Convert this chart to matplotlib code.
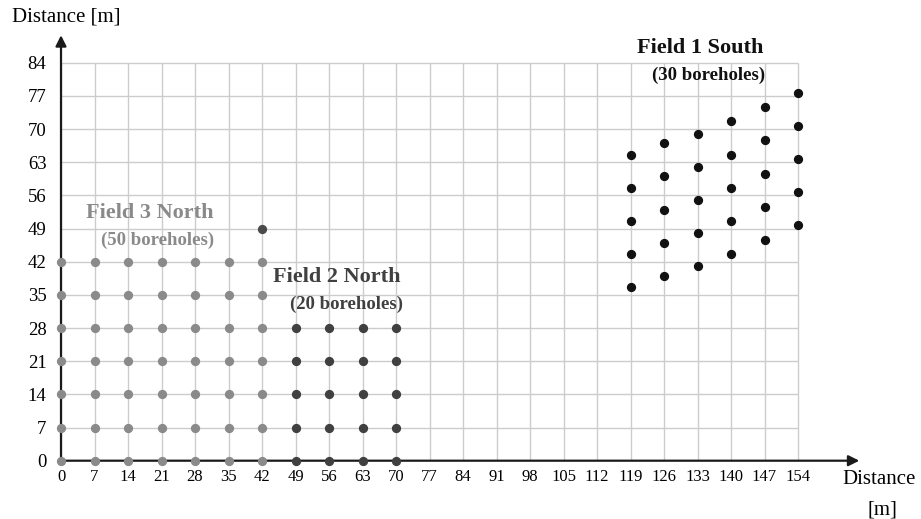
import matplotlib
matplotlib.use("Agg")
import matplotlib.pyplot as plt
import numpy as np

plt.rcParams['font.family'] = ['Liberation Serif', 'DejaVu Serif']

x_ticks = [0, 7, 14, 21, 28, 35, 42, 49, 56, 63, 70, 77, 84, 91, 98, 105, 112, 119, 126, 133, 140, 147, 154]
y_ticks = [0, 7, 14, 21, 28, 35, 42, 49, 56, 63, 70, 77, 84]

# Field 3 North: grid of boreholes
f3_x = [0, 7, 14, 21, 28, 35, 42]
f3_y = [0, 7, 14, 21, 28, 35, 42]
# extra borehole of Field 3 (drawn darker)
f3_extra_x = [42]
f3_extra_y = [49]

# Field 2 North
f2_x = [49, 56, 63, 70]
f2_y = [0, 7, 14, 21, 28]

# Field 1 South (staggered columns)
f1_cols = [119, 126, 133, 140, 147, 154]
f1_y = {
    119: [36.6, 43.6, 50.6, 57.6, 64.6],
    126: [39.0, 46.0, 53.0, 60.0, 67.0],
    133: [41.0, 48.0, 55.0, 62.0, 69.0],
    140: [43.6, 50.6, 57.6, 64.6, 71.6],
    147: [46.6, 53.6, 60.6, 67.6, 74.6],
    154: [49.7, 56.7, 63.7, 70.7, 77.7],
}

fig = plt.figure(figsize=(9.21, 5.19), dpi=100)
ax = fig.add_axes([61/921, 58.3/519, 170*4.786/921, 92*4.738/519])
ax.set_xlim(0, 170)
ax.set_ylim(0, 92)
for s in ax.spines.values():
    s.set_visible(False)

grid_c = '#cccccc'
ax.hlines(y_ticks, 0, max(x_ticks), colors=grid_c, lw=1.0, zorder=1)
ax.vlines(x_ticks, 0, max(y_ticks), colors=grid_c, lw=1.0, zorder=1)

# axes with arrows
ax.annotate('', xy=(166.8, 0), xytext=(0, 0),
            arrowprops=dict(arrowstyle='-|>', color='#1a1a1a', lw=1.6,
                            mutation_scale=16, shrinkA=0, shrinkB=0), zorder=3)
ax.annotate('', xy=(0, 89.8), xytext=(0, 0),
            arrowprops=dict(arrowstyle='-|>', color='#1a1a1a', lw=1.6,
                            mutation_scale=16, shrinkA=0, shrinkB=0), zorder=3)

ax.set_xticks(x_ticks)
ax.set_yticks(y_ticks)
ax.set_xticklabels([str(v) for v in x_ticks], fontsize=12)
ax.set_yticklabels([str(v) for v in y_ticks], fontsize=13.5)
ax.tick_params(axis='x', length=0, pad=6)
ax.tick_params(axis='y', length=0, pad=10.5)

ms = 32
gx, gy = np.meshgrid(f3_x, f3_y)
ax.scatter(gx.ravel(), gy.ravel(), s=ms, color='#8a8a8a', zorder=4, clip_on=False)
ax.scatter(f3_extra_x, f3_extra_y, s=ms, color='#4a4a4a', zorder=4)
gx2, gy2 = np.meshgrid(f2_x, f2_y)
ax.scatter(gx2.ravel(), gy2.ravel(), s=ms, color='#404040', zorder=4, clip_on=False)
for c in f1_cols:
    ax.scatter([c]*len(f1_y[c]), f1_y[c], s=ms, color='#111111', zorder=4)

ax.text(133.5, 87.2, 'Field 1 South', ha='center', va='center', fontsize=16, fontweight='bold', color='#111111')
ax.text(135.2, 81.4, '(30 boreholes)', ha='center', va='center', fontsize=13.5, fontweight='bold', color='#111111')
ax.text(18.6, 52.3, 'Field 3 North', ha='center', va='center', fontsize=16, fontweight='bold', color='#8a8a8a')
ax.text(20.2, 46.6, '(50 boreholes)', ha='center', va='center', fontsize=13.5, fontweight='bold', color='#8a8a8a')
ax.text(57.7, 38.8, 'Field 2 North', ha='center', va='center', fontsize=16, fontweight='bold', color='#404040')
ax.text(59.7, 33.1, '(20 boreholes)', ha='center', va='center', fontsize=13.5, fontweight='bold', color='#404040')

fig.text(12/921, 1 - 17/519, 'Distance [m]', ha='left', va='center', fontsize=15)
fig.text(879/921, 1 - 480/519, 'Distance', ha='center', va='center', fontsize=15)
fig.text(882/921, 1 - 510/519, '[m]', ha='center', va='center', fontsize=15)

fig.savefig('out.png', dpi=100)
